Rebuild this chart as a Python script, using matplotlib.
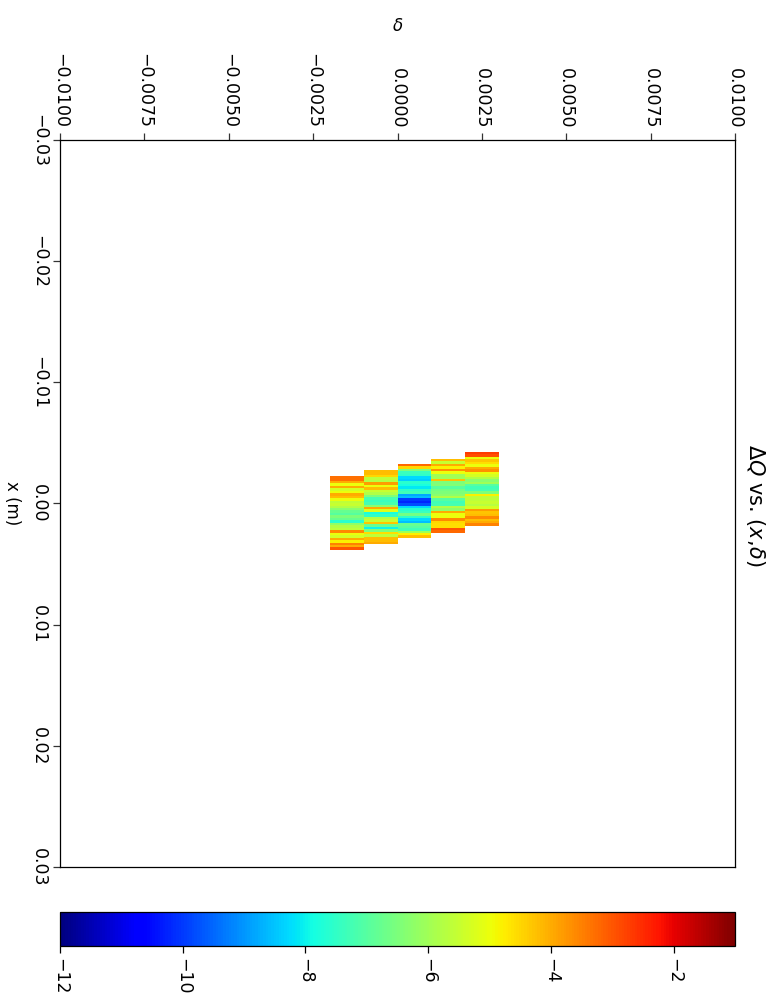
import numpy as np
import matplotlib
matplotlib.use("Agg")
import matplotlib.pyplot as plt

# ---- data ----
delta_edges = [-0.002, -0.001, 0.0, 0.001, 0.002, 0.003]
x_start = [-0.00227, -0.00276, -0.00326, -0.00367, -0.00425]
x_span = 0.0061

col1 = [-3.3, -3.3, -4.0, -5.0, -4.0, -5.3, -5.0, -4.0, -4.2, -5.0,
        -5.6, -5.5, -5.8, -6.3, -6.8, -7.0, -6.5, -6.8, -7.6, -6.2,
        -5.8, -5.6, -3.6, -5.0, -5.3, -4.0, -4.8, -3.5, -4.0, -3.0]
col2 = [-4.2, -4.2, -4.5, -5.6, -5.7, -3.8, -5.0, -4.2, -5.5, -5.8,
        -6.5, -7.2, -7.4, -7.2, -6.3, -4.0, -5.2, -7.8, -7.5, -5.8,
        -5.5, -4.3, -6.8, -8.0, -6.5, -4.6, -5.6, -4.2, -4.2, -4.0]
col3 = [-3.2, -4.5, -6.5, -7.4, -7.5, -8.3, -8.4, -7.6, -7.8, -8.1,
        -7.5, -7.3, -8.8, -8.6, -10.0, -10.2, -9.8, -8.3, -7.6, -7.4,
        -6.6, -7.5, -8.3, -8.6, -6.8, -7.0, -7.3, -6.0, -4.8, -4.2]
col4 = [-4.2, -5.5, -4.0, -4.8, -3.7, -5.0, -6.0, -6.0, -4.3, -6.5,
        -6.4, -7.0, -6.6, -6.5, -6.3, -5.8, -7.0, -7.3, -7.2, -5.8,
        -6.2, -4.0, -5.0, -5.0, -3.6, -4.5, -4.6, -4.6, -3.0, -3.2]
col5 = [-2.7, -2.9, -5.0, -4.3, -4.6, -5.0, -4.0, -3.7, -5.0, -5.3,
        -5.8, -6.3, -6.0, -7.0, -7.3, -7.2, -6.5, -4.8, -5.6, -5.6,
        -5.5, -5.7, -5.3, -3.8, -4.3, -4.2, -3.6, -4.2, -4.0, -3.5]
columns = [col1, col2, col3, col4, col5]

delta_ticks = [-0.01, -0.0075, -0.005, -0.0025, 0.0, 0.0025, 0.005, 0.0075, 0.01]
x_ticks = [-0.03, -0.02, -0.01, 0.0, 0.01, 0.02, 0.03]
cbar_ticks = [-12, -10, -8, -6, -4, -2]
vmin, vmax = -12, -1

# ---- figure (drawn rotated 90 degrees clockwise) ----
W, H = 770, 1005
fig = plt.figure(figsize=(W / 100, H / 100), dpi=100)

def box(l, t, r, b):
    return [l / W, 1 - b / H, (r - l) / W, (b - t) / H]

ax = fig.add_axes(box(60, 140, 735, 867))
cmap = plt.get_cmap("jet")
mesh = None
for i, vals in enumerate(columns):
    n = len(vals)
    xe = np.linspace(x_start[i], x_start[i] + x_span, n + 1)
    de = [delta_edges[i], delta_edges[i + 1]]
    C = np.array(vals).reshape(n, 1)
    mesh = ax.pcolormesh(de, xe, C, cmap=cmap, vmin=vmin, vmax=vmax, shading="flat")

def fmt(v, d):
    s = ("%." + str(d) + "f") % v
    if float(s) == 0:
        s = s.lstrip("-")
    return s.replace("-", "\u2212")

ax.set_xlim(-0.01, 0.01)
ax.set_ylim(0.03, -0.03)
ax.xaxis.tick_top()
ax.xaxis.set_label_position("top")
ax.set_xticks(delta_ticks)
ax.set_xticklabels([fmt(v, 4) for v in delta_ticks], rotation=-90)
ax.set_yticks(x_ticks)
ax.set_yticklabels([fmt(v, 2) for v in x_ticks], rotation=-90, va="center")
ax.tick_params(axis="both", labelsize=12.5, direction="out", length=5, width=0.9, color="#333333")
for s in ax.spines.values():
    s.set_linewidth(0.9)

ax.set_xlabel(r"$\delta$", fontsize=12, labelpad=16)
ax.set_ylabel("x (m)", fontsize=12, rotation=-90, labelpad=13, va="center")

fig.text(755 / W, 1 - 505 / H, r"$\Delta Q$ vs. $(x,\!\delta)$", rotation=-90,
         ha="center", va="center", fontsize=15)

cax = fig.add_axes(box(60, 912, 735, 946))
cb = fig.colorbar(mesh, cax=cax, orientation="horizontal", ticks=cbar_ticks)
cb.ax.set_xticklabels([fmt(v, 0) for v in cbar_ticks], rotation=-90)
cb.ax.tick_params(labelsize=12.5, length=5, width=0.9)
cb.outline.set_linewidth(0.9)

fig.savefig("out.png", dpi=100)
